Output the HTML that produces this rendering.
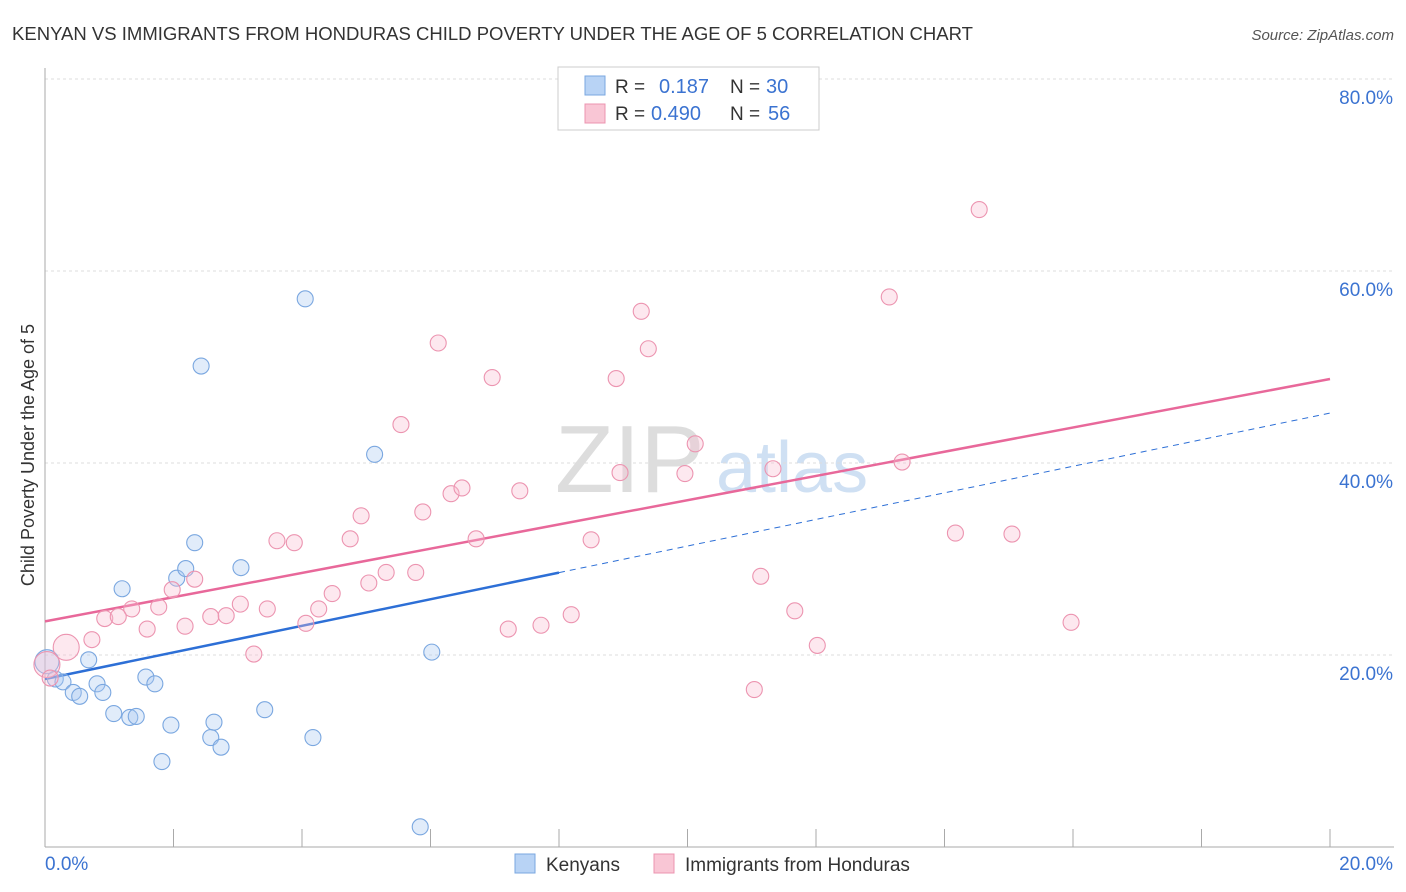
<!DOCTYPE html>
<html><head><meta charset="utf-8">
<style>
body{margin:0;background:#fff;font-family:"Liberation Sans",sans-serif;}
#wrap{position:relative;width:1406px;height:892px;overflow:hidden;}
svg text{font-family:"Liberation Sans",sans-serif;}
</style></head>
<body>
<div id="wrap">
<svg id="chart" width="1406" height="892">
<text x="12" y="40" font-size="18" fill="#333" textLength="961" lengthAdjust="spacingAndGlyphs">KENYAN VS IMMIGRANTS FROM HONDURAS CHILD POVERTY UNDER THE AGE OF 5 CORRELATION CHART</text>
<text x="1394" y="40" font-size="15" fill="#555" text-anchor="end" font-style="italic">Source: ZipAtlas.com</text>
<text x="34" y="455" font-size="18" fill="#333" text-anchor="middle" transform="rotate(-90 34 455)">Child Poverty Under the Age of 5</text>
<text x="555" y="492" font-size="96" fill="#ddd" font-family="Liberation Serif">ZIP</text>
<text x="716" y="492" font-size="72" fill="#cfe0f3">atlas</text>
<g id="grid"></g><g id="axes"></g><g id="lines"></g><g id="pts"></g>
<g>
<rect x="558" y="67" width="261" height="63" fill="#fff" stroke="#ccc"/>
<rect x="585" y="76" width="20" height="19" fill="#b8d3f5" stroke="#7aa7e0"/>
<rect x="585" y="104" width="20" height="19" fill="#f9c6d5" stroke="#ec94b0"/>
<text x="615" y="93" font-size="19" fill="#333">R =</text>
<text x="659" y="93" font-size="20" fill="#3b73d1">0.187</text>
<text x="730" y="93" font-size="19" fill="#333">N =</text>
<text x="766" y="93" font-size="20" fill="#3b73d1">30</text>
<text x="615" y="120" font-size="19" fill="#333">R =</text>
<text x="651" y="120" font-size="20" fill="#3b73d1">0.490</text>
<text x="730" y="120" font-size="19" fill="#333">N =</text>
<text x="768" y="120" font-size="20" fill="#3b73d1">56</text>
</g>
<g>
<rect x="515" y="854" width="20" height="19" fill="#b8d3f5" stroke="#7aa7e0"/>
<text x="546" y="871" font-size="19" fill="#333">Kenyans</text>
<rect x="654" y="854" width="20" height="19" fill="#f9c6d5" stroke="#ec94b0"/>
<text x="685" y="871" font-size="19" fill="#333">Immigrants from Honduras</text>
</g>
</svg>
</div>
<script>
const yTicks=[20,40,60,80];
const yTickLabels=["20.0%","40.0%","60.0%","80.0%"];
const xTickVals=[0,2,4,6,8,10,12,14,16,18,20];
const blueX=[0.03,0.16,0.28,0.44,0.54,0.68,0.81,0.90,1.07,1.20,1.32,1.42,1.57,1.71,1.82,1.96,2.05,2.19,2.33,2.43,2.58,2.63,2.74,3.05,3.42,4.05,4.17,5.13,5.84,6.02];
const blueY=[19.3,17.5,17.2,16.1,15.7,19.5,17.0,16.1,13.9,26.9,13.5,13.6,17.7,17.0,8.9,12.7,28.0,29.0,31.7,50.1,11.4,13.0,10.4,29.1,14.3,57.1,11.4,40.9,2.1,20.3];
const pinkX=[0.03,0.08,0.33,0.73,0.93,1.14,1.35,1.59,1.77,1.98,2.18,2.33,2.58,2.82,3.04,3.25,3.46,3.61,3.88,4.06,4.26,4.47,4.75,4.92,5.04,5.31,5.54,5.77,5.88,6.12,6.32,6.49,6.71,6.96,7.21,7.39,7.72,8.19,8.50,8.89,8.95,9.28,9.39,9.96,10.12,11.04,11.14,11.33,11.67,12.02,13.14,13.34,14.17,14.54,15.05,15.97];
const pinkY=[19.0,17.6,20.8,21.6,23.8,24.0,24.8,22.7,25.0,26.8,23.0,27.9,24.0,24.1,25.3,20.1,24.8,31.9,31.7,23.3,24.8,26.4,32.1,34.5,27.5,28.6,44.0,28.6,34.9,52.5,36.8,37.4,32.1,48.9,22.7,37.1,23.1,24.2,32.0,48.8,39.0,55.8,51.9,38.9,42.0,16.4,28.2,39.4,24.6,21.0,57.3,40.1,32.7,66.4,32.6,23.4];
const blueTrend=[17.5,45.2];
const pinkTrend=[23.5,48.75];
const blueSolidEnd=8;
const X=v=>45+v/20*1285, Y=v=>847-v*9.6;
const NS="http://www.w3.org/2000/svg";
function mk(parent,tag,attrs){const e=document.createElementNS(NS,tag);for(const k in attrs)e.setAttribute(k,attrs[k]);document.getElementById(parent).appendChild(e);return e;}
yTicks.forEach((t,i)=>{
 const g=mk('grid','line',{x1:45,x2:1394,y1:Y(t),y2:Y(t),stroke:'#ddd','stroke-dasharray':'3,3'});
 
 
 const l=mk('axes','text',{x:1393,y:Y(t)+25,'font-size':19,fill:'#3b73d1','text-anchor':'end'});
 l.textContent=yTickLabels[i];
 
 
});
const tg=mk('grid','line',{x1:45,x2:1394,y1:79,y2:79,stroke:'#ddd','stroke-dasharray':'3,3'});


const ya=mk('axes','line',{x1:45,x2:45,y1:68,y2:847,stroke:'#aaa'});


const xa=mk('axes','line',{x1:45,x2:1394,y1:847,y2:847,stroke:'#aaa'});


xTickVals.forEach(v=>{
 const t=mk('axes','line',{x1:X(v),x2:X(v),y1:829,y2:847,stroke:'#aaa'});
 
 
});
const x0=mk('axes','text',{x:45,y:870,'font-size':19,fill:'#3b73d1'});x0.textContent='0.0%';


const x1=mk('axes','text',{x:1393,y:870,'font-size':19,fill:'#3b73d1','text-anchor':'end'});x1.textContent='20.0%';


blueX.forEach((x,i)=>{
 const c=mk('pts','circle',{cx:X(x),cy:Y(blueY[i]),r:i===0?12:8,fill:'rgba(170,200,240,0.35)',stroke:'#7aa7e0','stroke-width':1.1});
 
 
});
pinkX.forEach((x,i)=>{
 const c=mk('pts','circle',{cx:X(x),cy:Y(pinkY[i]),r:(i<1||i===2)?13:8,fill:'rgba(248,190,208,0.35)',stroke:'#ec94b0','stroke-width':1.1});
 
 
});
const bt=v=>blueTrend[0]+(blueTrend[1]-blueTrend[0])*v/20;
const pt=v=>pinkTrend[0]+(pinkTrend[1]-pinkTrend[0])*v/20;
const bl=mk('lines','line',{x1:X(0),y1:Y(bt(0)),x2:X(blueSolidEnd),y2:Y(bt(blueSolidEnd)),stroke:'#2d6fd6','stroke-width':2.5});


const bd=mk('lines','line',{x1:X(blueSolidEnd),y1:Y(bt(blueSolidEnd)),x2:X(20),y2:Y(bt(20)),stroke:'#2d6fd6','stroke-width':1,'stroke-dasharray':'6,5'});


const pl=mk('lines','line',{x1:X(0),y1:Y(pt(0)),x2:X(20),y2:Y(pt(20)),stroke:'#e8689a','stroke-width':2.5});


</script>
</body></html>
